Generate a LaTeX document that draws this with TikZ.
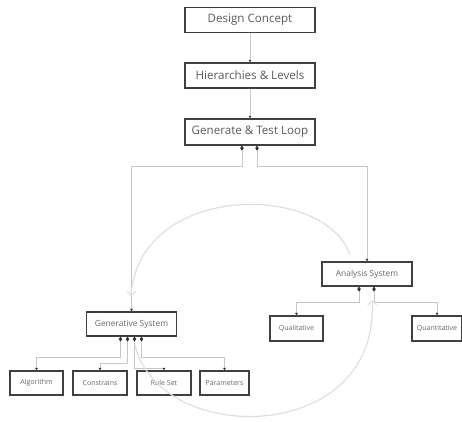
\documentclass[tikz,border=0pt]{standalone}
\usepackage{fontspec}
\setmainfont{Open Sans}
\usetikzlibrary{arrows.meta}
\begin{document}
\begin{tikzpicture}[x=1pt,y=-1pt]
	\tikzstyle{Big} = [rectangle, minimum width=130pt, minimum height=25pt, text centered, draw=black!75, line width=1.3pt, text=black!65, font=\fontsize{11.6}{13}\selectfont, inner sep=0pt]
	\tikzstyle{Mid} = [rectangle, minimum width=90pt, minimum height=24pt, text centered, draw=black!75, line width=1.2pt, text=black!60, font=\fontsize{8.4}{10}\selectfont, inner sep=0pt]
	\tikzstyle{Leaf} = [rectangle, minimum width=53pt, minimum height=24pt, text centered, draw=black!75, line width=1.2pt, text=black!60, font=\fontsize{7}{8}\selectfont, inner sep=0pt]
	\tikzstyle{conn} = [gray!45, line width=0.7pt, {Diamond[black!80,length=5pt,width=3.5pt]}-{Latex[black!80,length=2.5pt,width=3pt]}]
	\tikzstyle{plain} = [gray!45, line width=0.7pt, -{Latex[black!80,length=2.5pt,width=3pt]}]
	\tikzstyle{cycle} = [gray!25, line width=1.2pt, -{Straight Barb[length=4pt,width=9pt]}]

	\useasboundingbox (0,0) rectangle (462,421);
	\node (concept) [Big] at (250,20) {Design Concept};
	\node (levels) [Big] at (250,75.5) {Hierarchies \& Levels};
	\node (loop) [Big, minimum height=26pt] at (250,132) {Generate \& Test Loop};
	\node (gen) [Mid] at (131.5,324) {Generative System};
	\node (anal) [Mid] at (367,274) {Analysis System};
	\node (algo) [Leaf] at (36.5,383) {Algorithm};
	\node (cons) [Leaf, minimum width=54pt] at (100,383) {Constrains};
	\node (rule) [Leaf, minimum width=54pt] at (164,383) {Rule Set};
	\node (param) [Leaf, minimum width=49pt] at (224.5,383) {Parameters};
	\node (qual) [Leaf, minimum height=25pt] at (296.5,328.5) {Qualitative};
	\node (quant) [Leaf, minimum width=50pt, minimum height=25pt] at (437,328.5) {Quantitative};
	\coordinate (upA) at (350,255);
	\coordinate (upB) at (131,296);
	\coordinate (lowA) at (135,345);
	\coordinate (lowB) at (372,300);

	\draw [plain] (concept) -- (levels);
	\draw [plain] (levels) -- (loop);
	\draw [conn] ([xshift=-8pt]loop.south) -- ++(0,21) -| (gen.north);
	\draw [conn] ([xshift=7pt]loop.south) -- ++(0,21) -| (anal.north);
	\draw [conn] ([xshift=-8pt]anal.south) -- ++(0,16) -| (qual.north);
	\draw [conn] ([xshift=7pt]anal.south) -- ++(0,16) -| (quant.north);
	\draw [conn] ([xshift=-11pt]gen.south) -- ++(0,21) -| (algo.north);
	\draw [conn] ([xshift=-4pt]gen.south) -- ++(0,27) -| (cons.north);
	\draw [conn] ([xshift=3pt]gen.south) -- ++(0,32) -| (rule.north);
	\draw [conn] ([xshift=10pt]gen.south) -- ++(0,21) -| (param.north);

	\draw [cycle] (upA) .. controls (325,182) and (140,182) .. (upB);
	\draw [cycle] (lowA) .. controls (160,448) and (380,445) .. (lowB);
\end{tikzpicture}
\end{document}
